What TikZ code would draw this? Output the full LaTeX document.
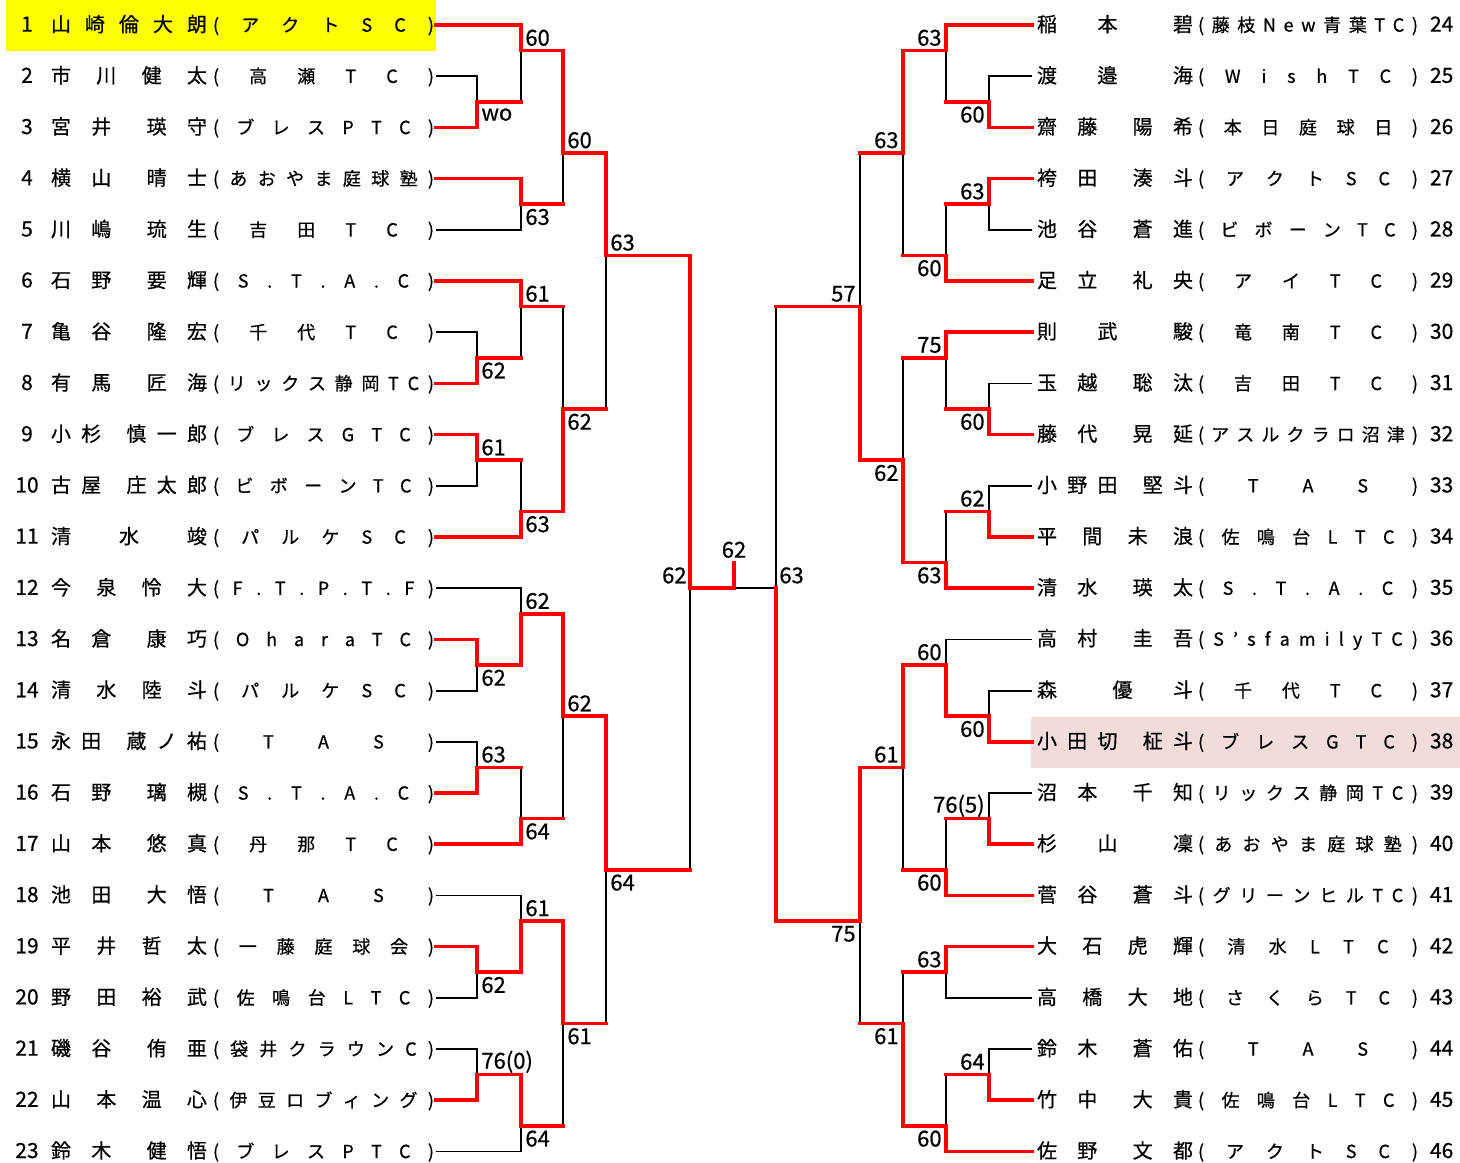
\documentclass[tikz,border=0pt]{standalone}
\usepackage{fontspec}
\setmainfont{Noto Sans CJK JP}[FakeBold=0.6]

\definecolor{winred}{RGB}{255,0,0}
\definecolor{champyellow}{RGB}{255,255,0}
\definecolor{secondpink}{RGB}{242,220,219}

\newcommand\numsize{\fontsize{10.5}{12}\selectfont}
\newcommand\clubsize{\fontsize{9}{10}\selectfont}

\makeatletter
\def\gap@mark{/}
% name spread over its cell, '/' = short fixed gap
\newcommand\spreadname[1]{\hbox to 78pt{\@tfor\sp@ch:=#1\do{\ifx\sp@ch\gap@mark\kern7.5pt\else\sp@ch\hfill\fi}\unskip}}
% club spread evenly between the brackets
\newcommand\spreadclub[2]{\hbox to #1{(\hfill\@tfor\sp@ch:=#2\do{\sp@ch\hfill})}}
\makeatother

\newcommand\leftrow[3]{\hspace*{13.5pt}\makebox[0pt]{\numsize #1}\hspace*{12pt}\spreadname{#2}\hspace*{3pt}{\clubsize\spreadclub{110.5pt}{#3}}\hspace*{1pt}}
\newcommand\rightrow[3]{\hspace*{2.5pt}\spreadname{#2}\hspace*{2.5pt}{\clubsize\spreadclub{110pt}{#3}}\hspace*{6pt}{\numsize #1}}

\begin{document}
\begin{tikzpicture}[x=0.5pt, y={(0pt,-12.8pt)}]

	\tikzstyle{left_player}=[anchor=west, inner sep=0pt, outer sep=0pt, font=\fontsize{10}{12}\selectfont]
	\tikzstyle{right_player}=[anchor=west, inner sep=0pt, outer sep=0pt, font=\fontsize{10}{12}\selectfont]
	\tikzstyle{win_line}=[draw=winred, line width=1.8pt, line cap=rect]
	\tikzstyle{lose_line}=[draw=black, line width=0.9pt]
	\tikzstyle{score_left}=[anchor=west, inner sep=0pt, font=\fontsize{11}{12}\selectfont]
	\tikzstyle{score_right}=[anchor=east, inner sep=0pt, font=\fontsize{11}{12}\selectfont]

	\useasboundingbox (0,-0.977) rectangle (1460,44.414);

	% highlighted rows
	\fill[champyellow] (6,-0.98) rectangle (436,1.0);
	\fill[secondpink] (1031,27.03) rectangle (1460,29.02);

	% Players, left block
	\node[left_player] at (0,0) (p1) {\leftrow{1}{山崎倫大朗}{アクトSC}};
	\node[left_player] at (0,2) (p2) {\leftrow{2}{市川健太}{高瀬TC}};
	\node[left_player] at (0,4) (p3) {\leftrow{3}{宮井/瑛守}{ブレスPTC}};
	\node[left_player] at (0,6) (p4) {\leftrow{4}{横山/晴士}{あおやま庭球塾}};
	\node[left_player] at (0,8) (p5) {\leftrow{5}{川嶋/琉生}{吉田TC}};
	\node[left_player] at (0,10) (p6) {\leftrow{6}{石野/要輝}{S.T.A.C}};
	\node[left_player] at (0,12) (p7) {\leftrow{7}{亀谷/隆宏}{千代TC}};
	\node[left_player] at (0,14) (p8) {\leftrow{8}{有馬/匠海}{リックス静岡TC}};
	\node[left_player] at (0,16) (p9) {\leftrow{9}{小杉/慎一郎}{ブレスGTC}};
	\node[left_player] at (0,18) (p10) {\leftrow{10}{古屋/庄太郎}{ビボーンTC}};
	\node[left_player] at (0,20) (p11) {\leftrow{11}{清水竣}{パルケSC}};
	\node[left_player] at (0,22) (p12) {\leftrow{12}{今泉怜大}{F.T.P.T.F}};
	\node[left_player] at (0,24) (p13) {\leftrow{13}{名倉/康巧}{OharaTC}};
	\node[left_player] at (0,26) (p14) {\leftrow{14}{清水陸斗}{パルケSC}};
	\node[left_player] at (0,28) (p15) {\leftrow{15}{永田/蔵ノ祐}{TAS}};
	\node[left_player] at (0,30) (p16) {\leftrow{16}{石野/璃槻}{S.T.A.C}};
	\node[left_player] at (0,32) (p17) {\leftrow{17}{山本/悠真}{丹那TC}};
	\node[left_player] at (0,34) (p18) {\leftrow{18}{池田/大悟}{TAS}};
	\node[left_player] at (0,36) (p19) {\leftrow{19}{平井哲太}{一藤庭球会}};
	\node[left_player] at (0,38) (p20) {\leftrow{20}{野田裕武}{佐鳴台LTC}};
	\node[left_player] at (0,40) (p21) {\leftrow{21}{磯谷/侑亜}{袋井クラウンC}};
	\node[left_player] at (0,42) (p22) {\leftrow{22}{山本温心}{伊豆ロブィング}};
	\node[left_player] at (0,44) (p23) {\leftrow{23}{鈴木/健悟}{ブレスPTC}};

	% Players, right block
	\node[right_player] at (1032,0) (p24) {\rightrow{24}{稲本/碧}{藤枝New青葉TC}};
	\node[right_player] at (1032,2) (p25) {\rightrow{25}{渡邉/海}{WishTC}};
	\node[right_player] at (1032,4) (p26) {\rightrow{26}{齋藤/陽希}{本日庭球日}};
	\node[right_player] at (1032,6) (p27) {\rightrow{27}{袴田/湊斗}{アクトSC}};
	\node[right_player] at (1032,8) (p28) {\rightrow{28}{池谷/蒼進}{ビボーンTC}};
	\node[right_player] at (1032,10) (p29) {\rightrow{29}{足立/礼央}{アイTC}};
	\node[right_player] at (1032,12) (p30) {\rightrow{30}{則武/駿}{竜南TC}};
	\node[right_player] at (1032,14) (p31) {\rightrow{31}{玉越/聡汰}{吉田TC}};
	\node[right_player] at (1032,16) (p32) {\rightrow{32}{藤代/晃延}{アスルクラロ沼津}};
	\node[right_player] at (1032,18) (p33) {\rightrow{33}{小野田/堅斗}{TAS}};
	\node[right_player] at (1032,20) (p34) {\rightrow{34}{平間未浪}{佐鳴台LTC}};
	\node[right_player] at (1032,22) (p35) {\rightrow{35}{清水/瑛太}{S.T.A.C}};
	\node[right_player] at (1032,24) (p36) {\rightrow{36}{高村/圭吾}{S’sfamilyTC}};
	\node[right_player] at (1032,26) (p37) {\rightrow{37}{森/優斗}{千代TC}};
	\node[right_player] at (1032,28) (p38) {\rightrow{38}{小田切/柾斗}{ブレスGTC}};
	\node[right_player] at (1032,30) (p39) {\rightrow{39}{沼本/千知}{リックス静岡TC}};
	\node[right_player] at (1032,32) (p40) {\rightrow{40}{杉山/凜}{あおやま庭球塾}};
	\node[right_player] at (1032,34) (p41) {\rightrow{41}{菅谷/蒼斗}{グリーンヒルTC}};
	\node[right_player] at (1032,36) (p42) {\rightrow{42}{大石虎輝}{清水LTC}};
	\node[right_player] at (1032,38) (p43) {\rightrow{43}{高橋大地}{さくらTC}};
	\node[right_player] at (1032,40) (p44) {\rightrow{44}{鈴木/蒼佑}{TAS}};
	\node[right_player] at (1032,42) (p45) {\rightrow{45}{竹中/大貴}{佐鳴台LTC}};
	\node[right_player] at (1032,44) (p46) {\rightrow{46}{佐野/文都}{アクトSC}};

	% Match points, left
	\coordinate (s2_3) at (477,3);
	\coordinate (s1_3) at (521,1);
	\coordinate (s4_5) at (521,7);
	\coordinate (s1_5) at (563,5);
	\coordinate (s7_8) at (477,13);
	\coordinate (s6_8) at (521,11);
	\coordinate (s9_10) at (477,17);
	\coordinate (s9_11) at (521,19);
	\coordinate (s6_11) at (563,15);
	\coordinate (s1_11) at (606,9);
	\coordinate (s13_14) at (477,25);
	\coordinate (s12_14) at (521,23);
	\coordinate (s15_16) at (477,29);
	\coordinate (s15_17) at (521,31);
	\coordinate (s12_17) at (563,27);
	\coordinate (s19_20) at (477,37);
	\coordinate (s18_20) at (521,35);
	\coordinate (s21_22) at (477,41);
	\coordinate (s21_23) at (521,43);
	\coordinate (s18_23) at (563,39);
	\coordinate (s12_23) at (606,33);
	\coordinate (s1_23) at (690,22);

	% Match points, right
	\coordinate (s25_26) at (989,3);
	\coordinate (s24_26) at (946,1);
	\coordinate (s27_28) at (989,7);
	\coordinate (s27_29) at (946,9);
	\coordinate (s24_29) at (903,5);
	\coordinate (s31_32) at (989,15);
	\coordinate (s30_32) at (946,13);
	\coordinate (s33_34) at (989,19);
	\coordinate (s33_35) at (946,21);
	\coordinate (s30_35) at (903,17);
	\coordinate (s24_35) at (860,11);
	\coordinate (s37_38) at (989,27);
	\coordinate (s36_38) at (946,25);
	\coordinate (s39_40) at (989,31);
	\coordinate (s39_41) at (946,33);
	\coordinate (s36_41) at (903,29);
	\coordinate (s42_43) at (946,37);
	\coordinate (s44_45) at (989,41);
	\coordinate (s44_46) at (946,43);
	\coordinate (s42_46) at (903,39);
	\coordinate (s36_46) at (860,35);
	\coordinate (s24_46) at (776,22);

	\coordinate (final) at (734,22);
	\coordinate (final_top) at (734,21);

	% Connections, losing side
	\draw[lose_line] (p2.east) -| (s2_3);
	\draw[lose_line] (s2_3 -| s1_3) -- (s1_3);
	\draw[lose_line] (p5.east) -| (s4_5);
	\draw[lose_line] (s4_5 -| s1_5) -- (s1_5);
	\draw[lose_line] (p7.east) -| (s7_8);
	\draw[lose_line] (s7_8 -| s6_8) -- (s6_8);
	\draw[lose_line] (p10.east) -| (s9_10);
	\draw[lose_line] (s9_10 -| s9_11) -- (s9_11);
	\draw[lose_line] (s6_8 -| s6_11) -- (s6_11);
	\draw[lose_line] (s6_11 -| s1_11) -- (s1_11);
	\draw[lose_line] (p12.east) -| (s12_14);
	\draw[lose_line] (p14.east) -| (s13_14);
	\draw[lose_line] (p15.east) -| (s15_16);
	\draw[lose_line] (s15_16 -| s15_17) -- (s15_17);
	\draw[lose_line] (s15_17 -| s12_17) -- (s12_17);
	\draw[lose_line] (p18.east) -| (s18_20);
	\draw[lose_line] (p20.east) -| (s19_20);
	\draw[lose_line] (p21.east) -| (s21_22);
	\draw[lose_line] (p23.east) -| (s21_23);
	\draw[lose_line] (s21_23 -| s18_23) -- (s18_23);
	\draw[lose_line] (s18_23 -| s12_23) -- (s12_23);
	\draw[lose_line] (s12_23 -| s1_23) -- (s1_23);
	\draw[lose_line] (s24_46) -- (final);

	\draw[lose_line] (p25.west) -| (s25_26);
	\draw[lose_line] (s25_26 -| s24_26) -- (s24_26);
	\draw[lose_line] (p28.west) -| (s27_28);
	\draw[lose_line] (s27_28 -| s27_29) -- (s27_29);
	\draw[lose_line] (s27_29 -| s24_29) -- (s24_29);
	\draw[lose_line] (p31.west) -| (s31_32);
	\draw[lose_line] (s31_32 -| s30_32) -- (s30_32);
	\draw[lose_line] (p33.west) -| (s33_34);
	\draw[lose_line] (s33_34 -| s33_35) -- (s33_35);
	\draw[lose_line] (s30_32 -| s30_35) -- (s30_35);
	\draw[lose_line] (s24_29 -| s24_35) -- (s24_35);
	\draw[lose_line] (p36.west) -| (s36_38);
	\draw[lose_line] (p37.west) -| (s37_38);
	\draw[lose_line] (p39.west) -| (s39_40);
	\draw[lose_line] (s39_40 -| s39_41) -- (s39_41);
	\draw[lose_line] (s39_41 -| s36_41) -- (s36_41);
	\draw[lose_line] (p43.west) -| (s42_43);
	\draw[lose_line] (p44.west) -| (s44_45);
	\draw[lose_line] (s44_45 -| s44_46) -- (s44_46);
	\draw[lose_line] (s42_43 -| s42_46) -- (s42_46);
	\draw[lose_line] (s42_46 -| s36_46) -- (s36_46);
	\draw[lose_line] (s24_35 -| s24_46) -- (s24_46);

	% Connections, winning side
	\draw[win_line] (p3.east) -| (s2_3);
	\draw[win_line] (s2_3) -- (s2_3 -| s1_3);
	\draw[win_line] (p1.east) -| (s1_3);
	\draw[win_line] (p4.east) -| (s4_5);
	\draw[win_line] (s4_5) -- (s4_5 -| s1_5);
	\draw[win_line] (s1_3) -| (s1_5);
	\draw[win_line] (p8.east) -| (s7_8);
	\draw[win_line] (s7_8) -- (s7_8 -| s6_8);
	\draw[win_line] (p6.east) -| (s6_8);
	\draw[win_line] (p9.east) -| (s9_10);
	\draw[win_line] (s9_10) -- (s9_10 -| s9_11);
	\draw[win_line] (p11.east) -| (s9_11);
	\draw[win_line] (s6_8) -- (s6_8 -| s6_11);
	\draw[win_line] (s9_11) -| (s6_11);
	\draw[win_line] (s1_5) -| (s1_11);
	\draw[win_line] (s6_11) -- (s6_11 -| s1_11);
	\draw[win_line] (p13.east) -| (s13_14);
	\draw[win_line] (s13_14) -| (s12_14);
	\draw[win_line] (p16.east) -| (s15_16);
	\draw[win_line] (s15_16) -- (s15_16 -| s15_17);
	\draw[win_line] (p17.east) -| (s15_17);
	\draw[win_line] (s12_14) -| (s12_17);
	\draw[win_line] (s15_17) -- (s15_17 -| s12_17);
	\draw[win_line] (p19.east) -| (s19_20);
	\draw[win_line] (s19_20) -| (s18_20);
	\draw[win_line] (p22.east) -| (s21_22);
	\draw[win_line] (s21_22) -| (s21_23);
	\draw[win_line] (s18_20) -| (s18_23);
	\draw[win_line] (s21_23) -- (s21_23 -| s18_23);
	\draw[win_line] (s12_17) -| (s12_23);
	\draw[win_line] (s18_23) -- (s18_23 -| s12_23);
	\draw[win_line] (s1_11) -| (s1_23);
	\draw[win_line] (s12_23) -- (s12_23 -| s1_23);
	\draw[win_line] (s1_23) -- (final);
	\draw[win_line] (final) -- (final_top);

	\draw[win_line] (p26.west) -| (s25_26);
	\draw[win_line] (s25_26) -- (s25_26 -| s24_26);
	\draw[win_line] (p24.west) -| (s24_26);
	\draw[win_line] (p27.west) -| (s27_28);
	\draw[win_line] (s27_28) -- (s27_28 -| s27_29);
	\draw[win_line] (p29.west) -| (s27_29);
	\draw[win_line] (s24_26) -| (s24_29);
	\draw[win_line] (s27_29) -- (s27_29 -| s24_29);
	\draw[win_line] (p32.west) -| (s31_32);
	\draw[win_line] (s31_32) -- (s31_32 -| s30_32);
	\draw[win_line] (p30.west) -| (s30_32);
	\draw[win_line] (p34.west) -| (s33_34);
	\draw[win_line] (s33_34) -- (s33_34 -| s33_35);
	\draw[win_line] (p35.west) -| (s33_35);
	\draw[win_line] (s33_35) -| (s30_35);
	\draw[win_line] (s30_32) -- (s30_32 -| s30_35);
	\draw[win_line] (s30_35) -| (s24_35);
	\draw[win_line] (s24_29) -- (s24_29 -| s24_35);
	\draw[win_line] (p38.west) -| (s37_38);
	\draw[win_line] (s37_38) -| (s36_38);
	\draw[win_line] (p40.west) -| (s39_40);
	\draw[win_line] (s39_40) -- (s39_40 -| s39_41);
	\draw[win_line] (p41.west) -| (s39_41);
	\draw[win_line] (s36_38) -| (s36_41);
	\draw[win_line] (s39_41) -- (s39_41 -| s36_41);
	\draw[win_line] (p42.west) -| (s42_43);
	\draw[win_line] (p45.west) -| (s44_45);
	\draw[win_line] (s44_45) -- (s44_45 -| s44_46);
	\draw[win_line] (p46.west) -| (s44_46);
	\draw[win_line] (s44_46) -| (s42_46);
	\draw[win_line] (s42_43) -- (s42_43 -| s42_46);
	\draw[win_line] (s36_41) -| (s36_46);
	\draw[win_line] (s42_46) -- (s42_46 -| s36_46);
	\draw[win_line] (s36_46) -| (s24_46);
	\draw[win_line] (s24_35) -- (s24_35 -| s24_46);

	% Scores, left
	\node[score_left] at (481,3.5) (t2_3) {wo};
	\node[score_left] at (481,13.5) (t7_8) {62};
	\node[score_left] at (481,16.5) (t9_10) {61};
	\node[score_left] at (481,25.5) (t13_14) {62};
	\node[score_left] at (481,28.5) (t15_16) {63};
	\node[score_left] at (481,37.5) (t19_20) {62};
	\node[score_left] at (481,40.5) (t21_22) {76(0)};
	\node[score_left] at (525,0.5) (t1_3) {60};
	\node[score_left] at (525,7.5) (t4_5) {63};
	\node[score_left] at (525,10.5) (t6_8) {61};
	\node[score_left] at (525,19.5) (t9_11) {63};
	\node[score_left] at (525,22.5) (t12_14) {62};
	\node[score_left] at (525,31.5) (t15_17) {64};
	\node[score_left] at (525,34.5) (t18_20) {61};
	\node[score_left] at (525,43.5) (t21_23) {64};
	\node[score_left] at (567,4.5) (t1_5) {60};
	\node[score_left] at (567,15.5) (t6_11) {62};
	\node[score_left] at (567,26.5) (t12_17) {62};
	\node[score_left] at (567,39.5) (t18_23) {61};
	\node[score_left] at (610,8.5) (t1_11) {63};
	\node[score_left] at (610,33.5) (t12_23) {64};
	\node[score_right] at (687,21.5) (t1_23) {62};

	% Scores, final
	\node[inner sep=0pt, font=\fontsize{11}{12}\selectfont] at (734,20.5) (t_final) {62};
	\node[score_left] at (779,21.5) (t24_46) {63};

	% Scores, right
	\node[score_right] at (942,0.5) (t24_26) {63};
	\node[score_right] at (942,9.5) (t27_29) {60};
	\node[score_right] at (942,12.5) (t30_32) {75};
	\node[score_right] at (942,21.5) (t33_35) {63};
	\node[score_right] at (942,24.5) (t36_38) {60};
	\node[score_right] at (942,33.5) (t39_41) {60};
	\node[score_right] at (942,36.5) (t42_43) {63};
	\node[score_right] at (942,43.5) (t44_46) {60};
	\node[score_right] at (985,3.5) (t25_26) {60};
	\node[score_right] at (985,6.5) (t27_28) {63};
	\node[score_right] at (985,15.5) (t31_32) {60};
	\node[score_right] at (985,18.5) (t33_34) {62};
	\node[score_right] at (985,27.5) (t37_38) {60};
	\node[score_right] at (985,30.5) (t39_40) {76(5)};
	\node[score_right] at (985,40.5) (t44_45) {64};
	\node[score_right] at (899,4.5) (t24_29) {63};
	\node[score_right] at (899,17.5) (t30_35) {62};
	\node[score_right] at (899,28.5) (t36_41) {61};
	\node[score_right] at (899,39.5) (t42_46) {61};
	\node[score_right] at (856,10.5) (t24_35) {57};
	\node[score_right] at (856,35.5) (t36_46) {75};

\end{tikzpicture}
\end{document}
